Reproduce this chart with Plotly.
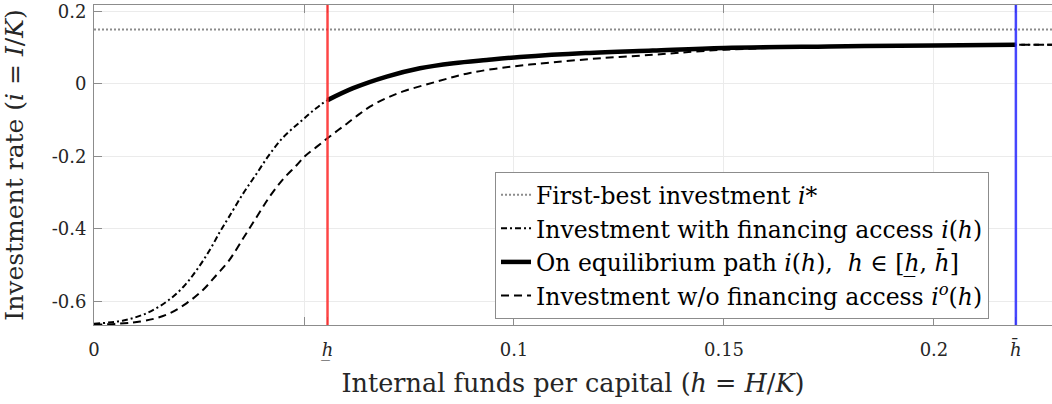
import plotly.graph_objects as go

# values
H_LOW = 0.0556
H_BAR = 0.2195
I_STAR = 0.15
X_RANGE = [0, 0.2281]
Y_RANGE = [-0.6655, 0.2175]

# investment with financing access i(h)
h_access = [0, 0.007, 0.0125, 0.0173, 0.0213, 0.0245, 0.0276, 0.030, 0.032, 0.0355,
            0.0387, 0.0419, 0.0451, 0.049, 0.0522, 0.0556, 0.0617, 0.0697, 0.0776, 0.0856,
            0.0935, 0.1014, 0.117, 0.133, 0.15, 0.175, 0.2, 0.2195, 0.2281]
i_access = [-0.662, -0.653, -0.633, -0.601, -0.560, -0.513, -0.458, -0.408, -0.370, -0.303,
            -0.248, -0.193, -0.147, -0.106, -0.074, -0.045, -0.012, 0.020, 0.043, 0.057,
            0.066, 0.074, 0.085, 0.092, 0.099, 0.103, 0.106, 0.1075, 0.108]

# investment without financing access i^o(h)
h_noaccess = [0, 0.011, 0.0173, 0.0221, 0.026, 0.0292, 0.032, 0.0356, 0.0387, 0.0419,
              0.0451, 0.0483, 0.0502, 0.053, 0.0555, 0.058, 0.0602, 0.063, 0.0657, 0.0695,
              0.0736, 0.0816, 0.0895, 0.0998, 0.109, 0.121, 0.133, 0.1395, 0.15, 0.17,
              0.2, 0.2281]
i_noaccess = [-0.665, -0.656, -0.637, -0.605, -0.568, -0.527, -0.490, -0.425, -0.368, -0.310,
              -0.262, -0.224, -0.200, -0.174, -0.151, -0.129, -0.110, -0.085, -0.063, -0.040,
              -0.021, 0.006, 0.030, 0.048, 0.059, 0.071, 0.080, 0.086, 0.094, 0.102,
              0.106, 0.108]

x_tickvals = [0, 0.05, H_LOW, 0.1, 0.15, 0.2, H_BAR]
x_ticktext = ["0", "", "<i>h\u0332</i>", "0.1", "0.15", "0.2", "<i>h\u0304</i>"]
y_tickvals = [0.2, 0, -0.2, -0.4, -0.6]
y_ticktext = ["0.2", "0", "-0.2", "-0.4", "-0.6"]

FONT = "DejaVu Serif"
AXIS_GRAY = "#8c8c8c"

# equilibrium path = part of i(h) between h_low and h_bar
h_path = [h for h in h_access if H_LOW <= h <= H_BAR]
i_path = [i for h, i in zip(h_access, i_access) if H_LOW <= h <= H_BAR]

fig = go.Figure()

fig.add_trace(go.Scatter(x=X_RANGE, y=[I_STAR, I_STAR], mode="lines",
                         line=dict(color="#8c8c8c", width=2, dash="2px,2px"),
                         name="First-best investment <i>i</i>*"))
fig.add_trace(go.Scatter(x=h_access, y=i_access, mode="lines", line_shape="spline",
                         line=dict(color="black", width=2, dash="6px,3px,2px,3px"),
                         name="Investment with financing access <i>i</i>(<i>h</i>)"))
fig.add_trace(go.Scatter(x=h_path, y=i_path, mode="lines", line_shape="spline",
                         line=dict(color="black", width=4.5),
                         name="On equilibrium path <i>i</i>(<i>h</i>),  <i>h</i> \u2208 [<i>h\u0332</i>, <i>h\u0304</i>]"))
fig.add_trace(go.Scatter(x=h_noaccess, y=i_noaccess, mode="lines", line_shape="spline",
                         line=dict(color="black", width=2, dash="8px,5px"),
                         name="Investment w/o financing access <i>i</i><sup><i>o</i></sup>(<i>h</i>)"))

fig.add_vline(x=H_LOW, line=dict(color="rgba(255,40,40,0.85)", width=2.5))
fig.add_vline(x=H_BAR, line=dict(color="rgba(40,40,255,0.85)", width=2.5))

fig.update_layout(
    width=1052, height=404,
    margin=dict(l=94, r=0, t=5, b=79),
    paper_bgcolor="white", plot_bgcolor="white",
    font=dict(family=FONT, size=18, color="#262626"),
    showlegend=True,
    legend=dict(x=0.4186, y=0.478, xanchor="left", yanchor="top",
                bgcolor="white", bordercolor=AXIS_GRAY, borderwidth=1,
                font=dict(family=FONT, size=23.5, color="black"),
                itemwidth=30, tracegroupgap=0),
)

fig.update_xaxes(range=X_RANGE, tickvals=x_tickvals, ticktext=x_ticktext,
                 automargin=False,
                 showgrid=True, gridcolor="#ebebeb", gridwidth=1,
                 showline=True, linecolor=AXIS_GRAY, linewidth=1, mirror="ticks",
                 ticks="inside", ticklen=8, tickcolor=AXIS_GRAY,
                 ticklabelstandoff=8,
                 zeroline=False,
                 title=dict(text="Internal funds per capital (<i>h</i> = <i>H</i>/<i>K</i>)",
                            font=dict(family=FONT, size=25.5), standoff=14))
# labels without major ticks sit closer to the axis; the inside tick marks come from minor ticks
fig.update_yaxes(range=Y_RANGE, tickvals=y_tickvals, ticktext=y_ticktext,
                 automargin=False, ticklabeloverflow="allow",
                 showgrid=True, gridcolor="#ebebeb", gridwidth=1,
                 showline=True, linecolor=AXIS_GRAY, linewidth=1,
                 ticks="", ticklabelstandoff=3,
                 minor=dict(tickvals=y_tickvals, ticks="inside", ticklen=8,
                            tickcolor=AXIS_GRAY, showgrid=False),
                 zeroline=False,
                 title=dict(text="Investment rate (<i>i</i> = <i>I</i>/<i>K</i>)",
                            font=dict(family=FONT, size=25), standoff=24))

# drop the default page margin so the figure sits at the top-left corner of the window
fig.write_html("out.html", config={"displayModeBar": False},
               post_script="document.body.style.margin = '0';")
